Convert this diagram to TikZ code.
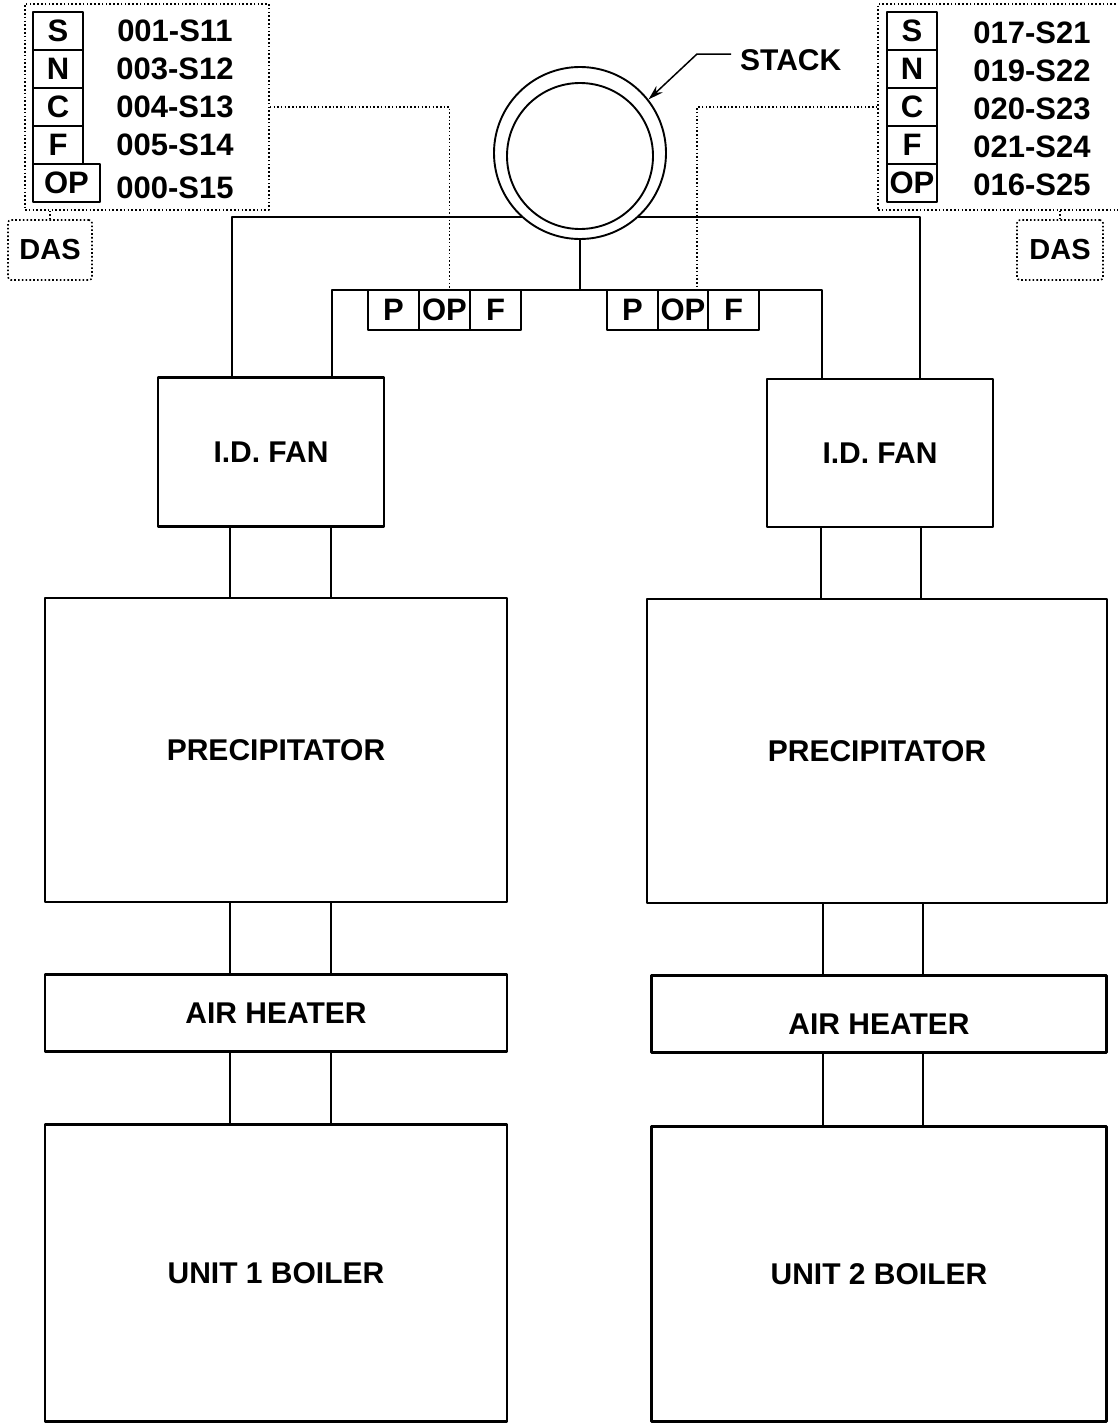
\documentclass[tikz,border=0pt]{standalone}
\usepackage{fontspec}
\setmainfont{Liberation Sans}
\usetikzlibrary{arrows.meta}

\tikzset{
  unit/.style={draw,line width=2.2pt,inner sep=0pt,font=\bfseries\fontsize{30}{30}\selectfont},
  cell/.style={draw,line width=1.7pt,inner sep=0pt,minimum width=50pt,minimum height=38pt,font=\bfseries\fontsize{31}{31}\selectfont},
  code/.style={inner sep=0pt,font=\bfseries\fontsize{31}{31}\selectfont},
  group/.style={draw,line width=1.6pt,dash pattern=on 1.6pt off 2.2pt,inner sep=0pt},
  dasbox/.style={group,rounded corners=3pt,minimum width=84pt,minimum height=60pt,font=\bfseries\fontsize{29}{29}\selectfont},
  duct/.style={line width=1.7pt},
  signal/.style={line width=1.5pt,dash pattern=on 1.5pt off 2.2pt},
}

\begin{document}
\begin{tikzpicture}[x=1pt,y=-1pt,line join=round,>=Stealth]
\useasboundingbox (0,0) rectangle (1117,1424);

% unit 1
\node[unit,minimum width=226pt,minimum height=149pt] (fanL) at (271,452) {I.D. FAN};
\node[unit,minimum width=462pt,minimum height=304pt] (precL) at (276,750) {PRECIPITATOR};
\node[unit,minimum width=462pt,minimum height=77pt] (heatL) at (276,1013) {AIR HEATER};
\node[unit,minimum width=462pt,minimum height=297pt] (boilL) at (276,1273) {UNIT 1 BOILER};

% unit 2
\node[unit,minimum width=226pt,minimum height=148pt] (fanR) at (880,453) {I.D. FAN};
\node[unit,minimum width=460pt,minimum height=304pt] (precR) at (877,751) {PRECIPITATOR};
\node[unit,minimum width=455pt,minimum height=77pt,text height=40pt,text depth=0pt] (heatR) at (879,1014) {AIR HEATER};
\node[unit,minimum width=455pt,minimum height=295pt] (boilR) at (879,1274) {UNIT 2 BOILER};

% ducts between units
\foreach \a/\b in {fanL/precL,precL/heatL,heatL/boilL}{
  \draw[duct] ([xshift=-46pt]\a.south -| \b.north) -- ([xshift=-46pt]\b.north);
  \draw[duct] ([xshift=55pt]\a.south -| \b.north) -- ([xshift=55pt]\b.north);
}
\foreach \a/\b in {fanR/precR,precR/heatR,heatR/boilR}{
  \draw[duct] ([xshift=-56pt]\a.south -| \b.north) -- ([xshift=-56pt]\b.north);
  \draw[duct] ([xshift=44pt]\a.south -| \b.north) -- ([xshift=44pt]\b.north);
}

% breeching to stack
\coordinate (hdrL) at (232,217);
\coordinate (hdrR) at (920,217);
\coordinate (tee) at (580,290);
\draw[duct] ([xshift=-39pt]fanL.north) -- (hdrL) -- (hdrR) -- ([xshift=40pt]fanR.north);
\draw[duct] ([xshift=61pt]fanL.north) |- (tee) -| ([xshift=-58pt]fanR.north);

% stack
\node[circle,draw,fill=white,line width=1.9pt,minimum size=172pt,inner sep=0pt] (stack) at (580,153) {};
\node[circle,draw,line width=1.9pt,minimum size=146pt,inner sep=0pt] (stackin) at (580,156) {};
\draw[duct] (stack.south) -- (tee);
\node[code,anchor=west,font=\bfseries\fontsize{30}{30}\selectfont] (stacklbl) at (740,60) {STACK};
\draw[line width=1.5pt,-{Stealth[length=15pt,width=9pt]}] ([xshift=-9pt,yshift=6pt]stacklbl.west) -- ++(-34,0) -- (stack.38);

% duct probes
\node[cell,minimum height=40pt,minimum width=51pt] (pL) at (393.5,310) {P};
\node[cell,minimum height=40pt,minimum width=51pt] (opL) at (444.5,310) {OP};
\node[cell,minimum height=40pt,minimum width=51pt] (fL) at (495.5,310) {F};
\node[cell,minimum height=40pt,minimum width=51pt] (pR) at (632.5,310) {P};
\node[cell,minimum height=40pt,minimum width=50pt] (opR) at (683,310) {OP};
\node[cell,minimum height=40pt,minimum width=51pt] (fR) at (733.5,310) {F};

% analyzers
\node[group,minimum width=244pt,minimum height=206pt] (grpL) at (147,107) {};
\node[group,minimum width=242pt,minimum height=206pt] (grpR) at (999,107) {};
\foreach \t/\y/\c in {S/31/001-S11,N/69/003-S12,C/107/004-S13,F/145/005-S14}{
  \node[cell] (aL\t) at (58,\y) {\t};
  \node[code] at (175,\y) {\c};
}
\node[cell,minimum width=67pt] (aLOP) at (66.5,183) {OP};
\node[code] at (175,188) {000-S15};
\foreach \t/\y/\c in {S/31/017-S21,N/69/019-S22,C/107/020-S23,F/145/021-S24,OP/183/016-S25}{
  \node[cell] (aR\t) at (912,\y) {\t};
  \node[code] at (1032,\y+2) {\c};
}

\node[dasbox] (dasL) at (50,250) {DAS};
\node[dasbox,minimum width=86pt] (dasR) at (1060,250) {DAS};
\draw[signal] (dasL.north) -- (dasL.north |- grpL.south);
\draw[signal] (dasR.north) -- (dasR.north |- grpR.south);

\draw[signal] (grpL.east) -| ([xshift=5pt]opL.north);
\draw[signal] (grpR.west) -| ([xshift=14pt]opR.north);
\end{tikzpicture}
\end{document}
